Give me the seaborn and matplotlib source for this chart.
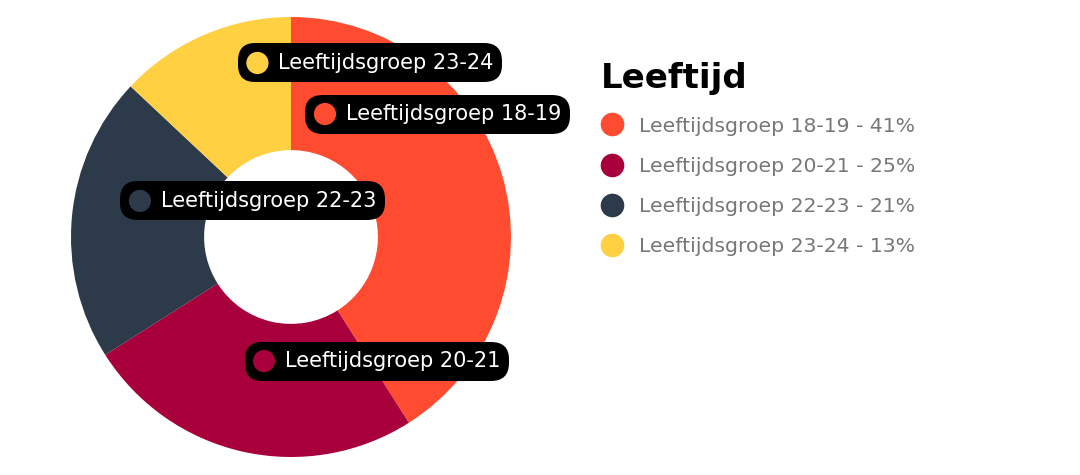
import matplotlib
matplotlib.use("Agg")
import matplotlib.pyplot as plt
import seaborn as sns
from matplotlib.lines import Line2D
from matplotlib.patches import Circle
from matplotlib.offsetbox import AnnotationBbox, DrawingArea, TextArea, HPacker

sns.set_theme(style="white")
plt.rcParams['font.family'] = ['DejaVu Sans']

# data
groups = ['Leeftijdsgroep 18-19', 'Leeftijdsgroep 20-21',
          'Leeftijdsgroep 22-23', 'Leeftijdsgroep 23-24']
shares = [41, 25, 21, 13]
colors = ['#FF4B2F', '#A8003B', '#2C3A4A', '#FFD042']
# where the black tags sit (pie coords)
tag_pos = [(0.666, 0.559), (0.389, -0.564), (-0.175, 0.164), (0.359, 0.791)]

fig = plt.figure(figsize=(10.8, 4.75), dpi=100)
ax = fig.add_axes([71 / 1080, 18 / 475, 440 / 1080, 440 / 475])

ax.pie(shares, colors=colors, startangle=90, counterclock=False, radius=1,
       wedgeprops=dict(width=0.605, edgecolor='none', linewidth=0))
ax.set_xlim(-1, 1)
ax.set_ylim(-1, 1)
ax.set_aspect('equal')
ax.axis('off')

# black tags with coloured dots
for name, col, (x, y) in zip(groups, colors, tag_pos):
    da = DrawingArea(16, 16, 0, 0)
    da.add_artist(Circle((8, 8), 8, fc=col, ec='none'))
    ta = TextArea(name, textprops=dict(color='white', fontsize=15))
    pack = HPacker(children=[da, ta], align='center', pad=0, sep=7)
    ab = AnnotationBbox(pack, (x, y), xycoords='data', box_alignment=(0.5, 0.5),
                        frameon=True, pad=0.55,
                        bboxprops=dict(boxstyle='round,pad=0.55,rounding_size=1.15',
                                       fc='black', ec='none'))
    ax.add_artist(ab)

# legend on the right
handles = [Line2D([0], [0], marker='o', linestyle='none', markersize=17,
                  markerfacecolor=c, markeredgecolor='none') for c in colors]
labels = [f'{g} - {s}%' for g, s in zip(groups, shares)]
leg = fig.legend(handles, labels, loc='upper left',
                 bbox_to_anchor=(585 / 1080, 1 - 46 / 475),
                 frameon=False, fontsize=14.7, labelcolor='#777777',
                 title='Leeftijd', alignment='left', handletextpad=0.85,
                 labelspacing=1.04, handlelength=1.0, borderpad=0.3)
leg.get_title().set_fontsize(24.5)
leg.get_title().set_fontweight('bold')
leg.get_title().set_color('black')

fig.savefig('out.png', dpi=100, facecolor='white')
